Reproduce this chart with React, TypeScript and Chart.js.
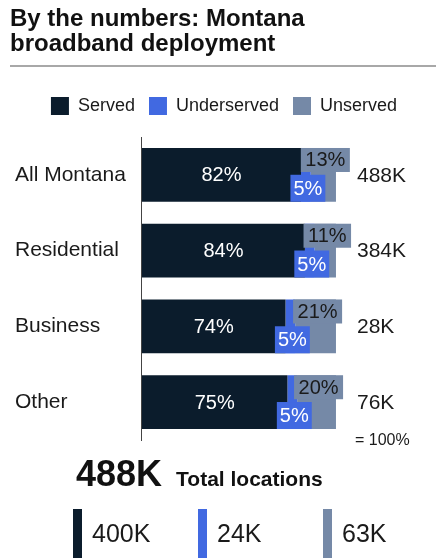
import React, { useEffect, useRef } from 'react';
import { Chart, registerables } from 'chart.js';

Chart.register(...registerables);

const FONT = '"Liberation Sans", Arial, Helvetica, sans-serif';

const titleLines = ['By the numbers: Montana', 'broadband deployment'];
const categories = ['All Montana', 'Residential', 'Business', 'Other'];
const seriesNames = ['Served', 'Underserved', 'Unserved'];
const seriesColors = ['#0B1C2C', '#4169E1', '#7589A7'];
const served = [82, 84, 74, 75];
const underserved = [5, 5, 5, 5];
const unserved = [13, 11, 21, 20];
const totals = ['488K', '384K', '28K', '76K'];
const fullScaleNote = '= 100%';
const summaryTotal = '488K';
const summaryLabel = 'Total locations';
const summaryValues = ['400K', '24K', '63K'];
const xMax = 150;

const labelPlugin = {
  id: 'barLabels',
  beforeLayout(chart: any) {
    const lg = chart.legend;
    if (lg && !lg._patched) {
      const orig = lg.fit;
      lg.fit = function () {
        orig.call(this);
        this.height += 12;
      };
      lg._patched = true;
    }
  },
  afterDatasetsDraw(chart: any) {
    const ctx = chart.ctx;
    const xs = chart.scales.x;
    const mS = chart.getDatasetMeta(0);
    const mU = chart.getDatasetMeta(1);
    const mN = chart.getDatasetMeta(2);
    ctx.save();
    ctx.textBaseline = 'middle';
    categories.forEach((_c, i) => {
      const bS = mS.data[i];
      const bU = mU.data[i];
      const bN = mN.data[i];
      const top = bS.y - bS.height / 2;
      const bottom = bS.y + bS.height / 2;

      // served label
      ctx.font = `20px ${FONT}`;
      ctx.textAlign = 'center';
      ctx.fillStyle = '#ffffff';
      ctx.fillText(served[i] + '%', (bS.base + bS.x) / 2, bS.y + 1);

      // unserved label box (top)
      const tN = unserved[i] + '%';
      const wN = ctx.measureText(tN).width + 9;
      const hN = 24;
      const cxN = (bN.base + bN.x) / 2 + 2;
      ctx.fillStyle = seriesColors[2];
      ctx.fillRect(cxN - wN / 2, top, wN, hN);
      ctx.fillStyle = '#1a1a1a';
      ctx.fillText(tN, cxN, top + hN / 2 + 1);

      // underserved label box (bottom)
      const tU = underserved[i] + '%';
      const wU = ctx.measureText(tU).width + 6;
      const hU = 27;
      const cxU = (bU.base + bU.x) / 2 + 2;
      ctx.fillStyle = seriesColors[1];
      ctx.fillRect(cxU - wU / 2, bottom - hU, wU, hU);
      ctx.fillStyle = '#ffffff';
      ctx.fillText(tU, cxU, bottom - hU / 2 + 1);

      // total
      ctx.font = `21px ${FONT}`;
      ctx.textAlign = 'left';
      ctx.fillStyle = '#1a1a1a';
      ctx.fillText(totals[i], xs.getPixelForValue(100) + 21, bS.y + 1);
    });
    ctx.font = `16px ${FONT}`;
    ctx.textAlign = 'left';
    ctx.fillStyle = '#1a1a1a';
    ctx.fillText(fullScaleNote, xs.getPixelForValue(100) + 19, chart.chartArea.bottom + 1);
    ctx.restore();
  },
};

export default function App() {
  const ref = useRef<HTMLCanvasElement | null>(null);

  useEffect(() => {
    if (!ref.current) return;
    const values = [served, underserved, unserved];
    const chart = new Chart(ref.current, {
      type: 'bar',
      data: {
        labels: categories,
        datasets: seriesNames.map((name, k) => ({
          label: name,
          data: values[k],
          backgroundColor: seriesColors[k],
          borderWidth: 0,
          barPercentage: 0.71,
          categoryPercentage: 1.0,
        })),
      },
      options: {
        indexAxis: 'y',
        animation: false,
        responsive: false,
        layout: { padding: { top: 83, bottom: 118, left: 15, right: 3 } },
        scales: {
          x: { type: 'linear', stacked: true, min: 0, max: xMax, display: false },
          y: {
            stacked: true,
            grid: { display: false, drawTicks: false },
            border: { display: true, color: '#444444', width: 1 },
            ticks: {
              color: '#1a1a1a',
              font: { size: 21, family: FONT },
              padding: 8,
              crossAlign: 'far',
            },
          },
        },
        plugins: {
          legend: {
            position: 'top',
            align: 'center',
            labels: {
              boxWidth: 18,
              boxHeight: 18,
              padding: 14,
              color: '#1a1a1a',
              font: { size: 18, family: FONT },
            },
          },
          tooltip: { enabled: false },
        },
      },
      plugins: [labelPlugin as any],
    });
    return () => chart.destroy();
  }, []);

  return (
    <div
      style={{
        position: 'fixed',
        left: 0,
        top: 0,
        width: 436,
        height: 558,
        background: '#ffffff',
        overflow: 'hidden',
        fontFamily: FONT,
        color: '#111111',
      }}
    >
      <canvas ref={ref} width={436} height={558} style={{ position: 'absolute', left: 0, top: 0 }} />
      <div
        style={{
          position: 'absolute',
          left: 10,
          top: 5,
          fontSize: 24,
          lineHeight: '25px',
          fontWeight: 'bold',
          color: '#111111',
        }}
      >
        {titleLines.map((t) => (
          <div key={t}>{t}</div>
        ))}
      </div>
      <div style={{ position: 'absolute', left: 10, top: 65, width: 426, height: 2, background: '#a8a8a8' }} />
      <div
        style={{
          position: 'absolute',
          left: 76,
          top: 456,
          fontSize: 36,
          lineHeight: '36px',
          fontWeight: 'bold',
          whiteSpace: 'nowrap',
          color: '#111111',
        }}
      >
        <span>{summaryTotal}</span>
        <span style={{ fontSize: 21, marginLeft: 14 }}>{summaryLabel}</span>
      </div>
      {summaryValues.map((v, k) => (
        <React.Fragment key={v}>
          <div
            style={{
              position: 'absolute',
              left: 73 + k * 125,
              top: 509,
              width: 9,
              height: 49,
              background: seriesColors[k],
            }}
          />
          <div
            style={{
              position: 'absolute',
              left: 92 + k * 125,
              top: 521,
              fontSize: 25,
              lineHeight: '25px',
              whiteSpace: 'nowrap',
              color: '#1a1a1a',
            }}
          >
            {v}
          </div>
        </React.Fragment>
      ))}
    </div>
  );
}
